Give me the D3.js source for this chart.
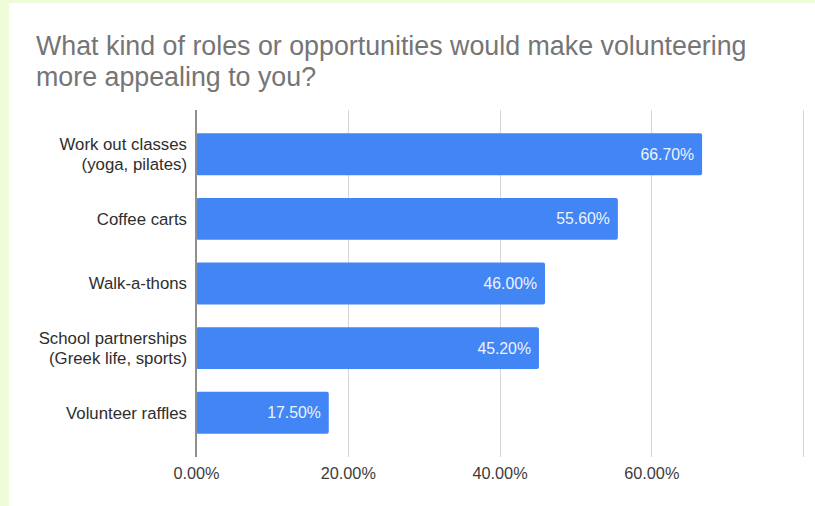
<!DOCTYPE html>
<html>
<head>
<meta charset="utf-8">
<script src="https://cdn.jsdelivr.net/npm/d3@7"></script>
<style>
  html, body { margin: 0; padding: 0; background: #ffffff; }
  svg { display: block; }
  text { font-family: "Liberation Sans", Arial, sans-serif; }
</style>
</head>
<body>
<svg id="chart" width="815" height="506"></svg>
<script>
// Survey responses: share of respondents choosing each option
const categories = [
  "Work out classes\n(yoga, pilates)",
  "Coffee carts",
  "Walk-a-thons",
  "School partnerships\n(Greek life, sports)",
  "Volunteer raffles"
];
const values = [66.70, 55.60, 46.00, 45.20, 17.50];

const gridValues = [20, 40, 60, 80];
const tickValues = [0, 20, 40, 60];
const tickLabels = ["0.00%", "20.00%", "40.00%", "60.00%"];

const titleLines = [
  "What kind of roles or opportunities would make volunteering",
  "more appealing to you?"
];

const W = 815, H = 506;
const svg = d3.select("#chart");

// page background with a pale green frame on the top and left
svg.append("rect").attr("width", W).attr("height", H).attr("fill", "#eefcd9");
svg.append("rect").attr("x", 9).attr("y", 3).attr("width", W - 9).attr("height", H - 3).attr("fill", "#ffffff");

// title
svg.append("g").selectAll("text").data(titleLines).join("text")
  .attr("x", 36)
  .attr("y", (d, i) => 55 + i * 31)
  .attr("font-size", 26.8)
  .attr("fill", "#757575")
  .text(d => d);

const plotTop = 110, plotBottom = 457;
const x = d3.scaleLinear().domain([0, 80]).range([196, 803]);
const y = d3.scaleBand().domain(categories).range([plotTop, plotBottom])
  .paddingInner(0.351).paddingOuter(0.36);

// vertical gridlines
svg.append("g").selectAll("line").data(gridValues).join("line")
  .attr("x1", d => Math.round(x(d)) + 0.5).attr("x2", d => Math.round(x(d)) + 0.5)
  .attr("y1", plotTop).attr("y2", plotBottom)
  .attr("stroke", "#d6d6d6").attr("stroke-width", 1);

// bars
svg.append("g").selectAll("rect").data(values).join("rect")
  .attr("x", x(0))
  .attr("y", (d, i) => y(categories[i]))
  .attr("width", d => x(d) - x(0))
  .attr("height", y.bandwidth())
  .attr("rx", 2)
  .attr("fill", "#4285f4");

// baseline axis at zero
svg.append("line")
  .attr("x1", x(0)).attr("x2", x(0))
  .attr("y1", plotTop).attr("y2", plotBottom)
  .attr("stroke", "#8f8f8f").attr("stroke-width", 2);

// value labels inside bar ends
svg.append("g").selectAll("text").data(values).join("text")
  .attr("x", d => x(d) - 8)
  .attr("y", (d, i) => y(categories[i]) + y.bandwidth() / 2)
  .attr("dy", "0.35em")
  .attr("text-anchor", "end")
  .attr("font-size", 15.8)
  .attr("fill", "#eef3fe")
  .text(d => d.toFixed(2) + "%");

// x axis tick labels
const xAxis = d3.axisBottom(x)
  .tickValues(tickValues)
  .tickFormat((d, i) => tickLabels[i])
  .tickSize(0)
  .tickPadding(0);
const gx = svg.append("g").attr("transform", `translate(0, ${plotBottom + 10})`).call(xAxis);
gx.select(".domain").remove();
gx.selectAll("text")
  .attr("font-family", "\"Liberation Sans\", Arial, sans-serif")
  .attr("font-size", 16.3)
  .attr("fill", "#3c3c3c");

// category labels, right-aligned, wrapped onto two lines where needed
const yAxis = d3.axisLeft(y).tickSize(0).tickPadding(9).tickFormat("");
const gy = svg.append("g").attr("transform", `translate(${x(0)}, 0)`).call(yAxis);
gy.select(".domain").remove();
gy.selectAll(".tick").each(function (d) {
  const lines = d.split("\n");
  const t = d3.select(this).select("text")
    .attr("font-family", "\"Liberation Sans\", Arial, sans-serif")
    .attr("font-size", 16.8)
    .attr("fill", "#2e2e2e")
    .attr("text-anchor", "end")
    .attr("x", -9)
    .attr("dy", null)
    .attr("y", 0);
  const lh = 19.5;
  const start = -((lines.length - 1) * lh) / 2;
  t.selectAll("tspan").data(lines).join("tspan")
    .attr("x", -9)
    .attr("y", (l, i) => start + i * lh)
    .attr("dy", "0.35em")
    .text(l => l);
});
</script>
</body>
</html>
